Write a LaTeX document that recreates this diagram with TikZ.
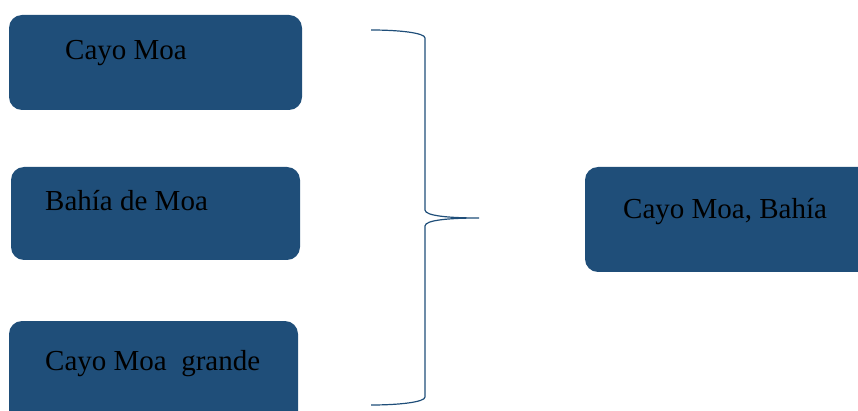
\documentclass[tikz,border=0pt]{standalone}
\usepackage{fontspec}
\setmainfont{Liberation Serif}
\usepackage{tikz}
\usetikzlibrary{positioning}

\definecolor{boxblue}{RGB}{31,78,121}

\tikzset{
  zonebox/.style={fill=boxblue, draw=none, rounded corners=13pt, inner sep=0pt},
  zonetxt/.style={anchor=base west, inner sep=0pt, text=black, font=\fontsize{29}{34}\selectfont},
}

\begin{document}
\begin{tikzpicture}[x=1pt,y=-1pt]

\clip (0,0) rectangle (858,411);

% left boxes
\node[zonebox, minimum width=293, minimum height=95] (cayo) at (155.5,62.5) {};
\node[zonebox, minimum width=289, minimum height=93] (bahia) at (155.5,213.5) {};
\node[zonebox, minimum width=289, minimum height=110] (grande) at (153.5,376) {};
% right box
\node[zonebox, minimum width=300, minimum height=105] (union) at (735,219.5) {};

  \node[zonetxt] (cayotxt) at (65,60) {Cayo Moa};
  \node[zonetxt] (bahiatxt) at (45,211) {Bahía de Moa};
  \node[zonetxt] (grandetxt) at (45,370) {Cayo Moa\ \ grande};
  \node[zonetxt] (uniontxt) at (623,219) {Cayo Moa, Bahía};

% brace
\draw[boxblue, line width=1.2pt] (371,30) .. controls (400,30) and (425,33) .. (425,38) -- (425,210)
  .. controls (425,216) and (450,218) .. (479,218)
  .. controls (450,218) and (425,220) .. (425,226) -- (425,397)
  .. controls (425,402) and (400,405) .. (371,405);

\end{tikzpicture}
\end{document}
